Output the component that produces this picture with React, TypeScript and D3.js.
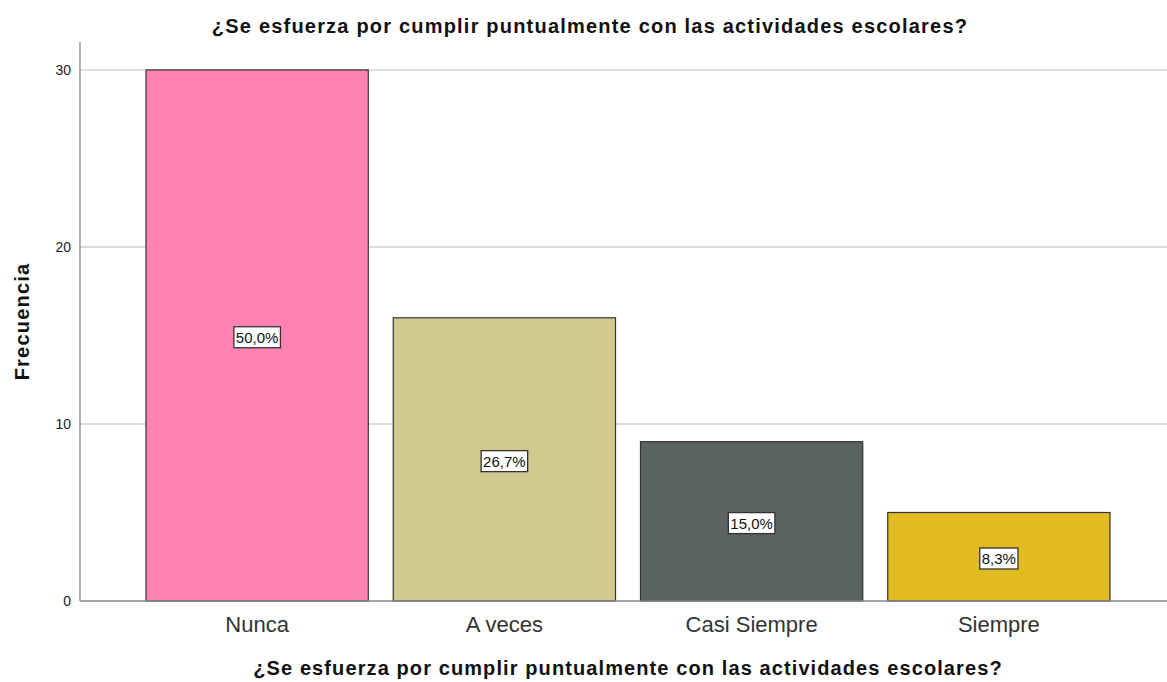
import { useEffect, useRef } from 'react'
import * as d3 from 'd3'

const categories = ['Nunca', 'A veces', 'Casi Siempre', 'Siempre']
const counts = [30, 16, 9, 5]
const percents = ['50,0%', '26,7%', '15,0%', '8,3%']
const colors = ['#ff82b3', '#d0ca8e', '#5b635f', '#e1bb22']
const yTicks = [0, 10, 20, 30]
const title = '¿Se esfuerza por cumplir puntualmente con las actividades escolares?'

const W = 1167
const H = 682
const M = { top: 42, right: 0, bottom: 81, left: 80 }

export default function App() {
  const svgRef = useRef<SVGSVGElement | null>(null)

  useEffect(() => {
    document.body.style.margin = '0'
    document.body.style.overflow = 'hidden'
    if (!svgRef.current) return
    const svg = d3.select(svgRef.current)
    svg.selectAll('*').remove()

    const font = 'Arial, "Liberation Sans", sans-serif'
    const x0 = M.left
    const x1 = W - M.right
    const yBase = H - M.bottom

    // band range runs a little past the plot's right edge, as in the source
    const x = d3.scaleBand<string>()
      .domain(categories)
      .range([x0, 1176])
      .paddingInner(0.101)
      .paddingOuter(0.267)

    const y = d3.scaleLinear()
      .domain([0, 31.58])
      .range([yBase, M.top])

    // grid
    svg.selectAll('.gy').data(yTicks.filter(t => t > 0)).join('line')
      .attr('x1', x0).attr('x2', x1)
      .attr('y1', d => y(d)).attr('y2', d => y(d))
      .attr('stroke', '#cfcfcf').attr('stroke-width', 1.3)

    // bars
    svg.selectAll('rect.bar').data(counts).join('rect')
      .attr('class', 'bar')
      .attr('x', (_, i) => x(categories[i])!)
      .attr('y', d => y(d))
      .attr('width', x.bandwidth())
      .attr('height', d => yBase - y(d))
      .attr('fill', (_, i) => colors[i])
      .attr('stroke', '#333')
      .attr('stroke-width', 1.2)

    // axes lines
    svg.append('line').attr('x1', x0).attr('x2', x0).attr('y1', M.top).attr('y2', yBase)
      .attr('stroke', '#888').attr('stroke-width', 1.3)
    svg.append('line').attr('x1', x0).attr('x2', x1).attr('y1', yBase).attr('y2', yBase)
      .attr('stroke', '#888').attr('stroke-width', 1.3)

    // y tick labels
    svg.selectAll('.yt').data(yTicks).join('text')
      .attr('x', x0 - 9).attr('y', d => y(d))
      .attr('dy', '0.35em').attr('text-anchor', 'end')
      .attr('font-family', font).attr('font-size', 14).attr('fill', '#222')
      .text(d => d)

    // x tick labels
    svg.selectAll('.xt').data(categories).join('text')
      .attr('x', d => x(d)! + x.bandwidth() / 2).attr('y', yBase + 31)
      .attr('text-anchor', 'middle')
      .attr('font-family', font).attr('font-size', 22).attr('fill', '#333')
      .text(d => d)

    // percentage labels in boxes
    categories.forEach((c, i) => {
      const cx = x(c)! + x.bandwidth() / 2
      const cy = (y(counts[i]) + yBase) / 2 + 2
      const t = svg.append('text')
        .attr('x', cx).attr('y', cy).attr('dy', '0.35em')
        .attr('text-anchor', 'middle')
        .attr('font-family', font).attr('font-size', 15).attr('fill', '#111')
        .text(percents[i])
      const bb = (t.node() as SVGTextElement).getBBox()
      svg.insert('rect', () => t.node())
        .attr('x', bb.x - 2).attr('y', bb.y - 2)
        .attr('width', bb.width + 4).attr('height', bb.height + 4)
        .attr('fill', '#fff').attr('stroke', '#333').attr('stroke-width', 1.3)
    })

    // titles
    svg.append('text').attr('x', 590).attr('y', 33)
      .attr('text-anchor', 'middle').attr('font-family', font)
      .attr('font-size', 20).attr('font-weight', 'bold').attr('fill', '#111')
      .attr('letter-spacing', 1.2)
      .text(title)
    svg.append('text').attr('x', 628).attr('y', 675)
      .attr('text-anchor', 'middle').attr('font-family', font)
      .attr('font-size', 20).attr('font-weight', 'bold').attr('fill', '#111')
      .attr('letter-spacing', 1.1)
      .text(title)
    svg.append('text')
      .attr('transform', `translate(29,${(M.top + yBase) / 2}) rotate(-90)`)
      .attr('text-anchor', 'middle').attr('font-family', font)
      .attr('font-size', 20).attr('font-weight', 'bold').attr('fill', '#111')
      .attr('letter-spacing', 1.2)
      .text('Frecuencia')
  }, [])

  return (
    <div>
      <svg ref={svgRef} width={W} height={H} style={{ display: 'block', background: '#fff' }} />
    </div>
  )
}
